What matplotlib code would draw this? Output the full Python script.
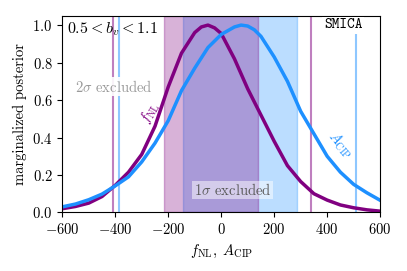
import numpy as np
import matplotlib
matplotlib.use("Agg")
import matplotlib.pyplot as plt

plt.rcParams['font.family'] = 'serif'
plt.rcParams['font.serif'] = ['cmr10']
plt.rcParams['mathtext.fontset'] = 'cm'
plt.rcParams['axes.formatter.use_mathtext'] = True
plt.rcParams['font.size'] = 10.5

# posterior curves
x_fnl = [-600, -550, -500, -450, -400, -350, -300, -250, -200, -150, -100, -75, -50,
         -25, 0, 50, 100, 150, 200, 250, 300, 350, 400, 450, 500, 550, 600]
p_fnl = [0.020, 0.032, 0.050, 0.085, 0.145, 0.215, 0.31, 0.46, 0.67, 0.85, 0.96, 0.99, 1.0,
         0.985, 0.955, 0.82, 0.66, 0.52, 0.38, 0.25, 0.165, 0.10, 0.066, 0.04, 0.025, 0.014, 0.007]

x_acip = [-600, -550, -500, -450, -400, -350, -300, -250, -200, -150, -100, -50, 0,
          50, 75, 100, 125, 150, 200, 250, 300, 350, 400, 450, 500, 550, 600]
p_acip = [0.030, 0.045, 0.068, 0.098, 0.142, 0.19, 0.27, 0.37, 0.49, 0.65, 0.77, 0.88, 0.95,
          0.99, 1.0, 0.995, 0.975, 0.94, 0.83, 0.70, 0.54, 0.42, 0.30, 0.215, 0.15, 0.105, 0.065]

# 1 sigma / 2 sigma limits
fnl_1sig = [-217, 138]
acip_1sig = [-145, 285]
fnl_2sig = [-407, 338]
acip_2sig = [-384, 510]

c_fnl = 'purple'
c_acip = 'dodgerblue'

fig, ax = plt.subplots(figsize=(4.07, 2.71), dpi=100)
fig.subplots_adjust(left=0.153, right=0.934, bottom=0.216, top=0.942)

# blue band first, purple on top
ax.axvspan(acip_1sig[0], acip_1sig[1], color=c_acip, alpha=0.3, lw=1)
ax.axvspan(fnl_1sig[0], fnl_1sig[1], color=c_fnl, alpha=0.3, lw=1)
for v in fnl_2sig:
    ax.axvline(v, color=c_fnl, alpha=0.5, lw=1.5)
for v in acip_2sig:
    ax.axvline(v, color=c_acip, alpha=0.5, lw=1.5)

ax.plot(x_fnl, p_fnl, color=c_fnl, lw=2.5)
ax.plot(x_acip, p_acip, color=c_acip, lw=2.5)

ax.text(-404, 0.67, r'$2\sigma$ excluded', color='0.6', ha='center', va='center',
        bbox=dict(facecolor='white', edgecolor='none', alpha=0.9, pad=1))
ax.text(42, 0.12, r'$1\sigma$ excluded', color='0.35', ha='center', va='center',
        bbox=dict(facecolor='white', edgecolor='none', alpha=0.5, pad=1))
ax.text(460, 1.0, 'SMICA', family='cmtt10', ha='center', va='center',
        bbox=dict(facecolor='white', edgecolor='none', pad=1))
ax.text(0.015, 0.93, r'$0.5 < b_v < 1.1$', transform=ax.transAxes, ha='left', va='center',
        fontsize=11.5)
ax.text(-268, 0.535, r'$f_{\rm NL}$', color=c_fnl, rotation=60, ha='center', va='center')
ax.text(452, 0.36, r'$A_{\rm CIP}$', color=c_acip, rotation=-50, ha='center', va='center')

ax.set_xlim(-600, 600)
ax.set_ylim(0, 1.05)
ax.set_xticks([-600, -400, -200, 0, 200, 400, 600])
ax.set_yticks([0, 0.2, 0.4, 0.6, 0.8, 1.0])
ax.set_xlabel(r'$f_{\rm NL},\ A_{\rm CIP}$')
ax.set_ylabel('marginalized posterior')

fig.savefig('out.png', dpi=100)
